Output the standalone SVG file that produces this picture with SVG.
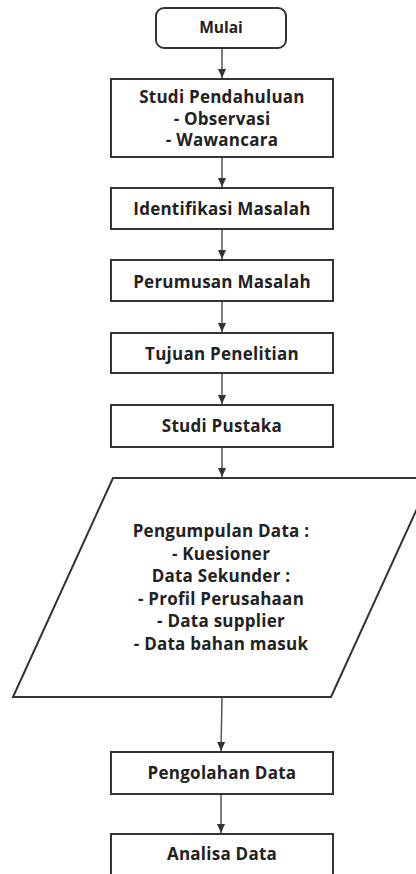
<svg xmlns="http://www.w3.org/2000/svg" width="416" height="874" viewBox="0 0 416 874">
<defs>
<marker id="arr" markerWidth="10" markerHeight="10" refX="9" refY="5" orient="auto" markerUnits="userSpaceOnUse">
<path d="M0,1 L9,5 L0,9 Z" fill="#333"/>
</marker>
<style>
.box{fill:#fff;stroke:#333;stroke-width:2}
.t{font-family:"Open Sans","Noto Sans",sans-serif;font-weight:bold;font-size:17px;letter-spacing:0.25px;fill:#222;text-anchor:middle}
.tm{font-family:"Open Sans","Noto Sans",sans-serif;font-weight:bold;font-size:15.5px;fill:#222;text-anchor:middle}
.c{stroke:#555;stroke-width:1.5;fill:none;marker-end:url(#arr)}
</style>
</defs>
<rect width="416" height="874" fill="#fff"/>
<g id="connectors">
<line class="c" x1="222" y1="48" x2="222" y2="78"/>
<line class="c" x1="222" y1="157" x2="222" y2="187"/>
<line class="c" x1="222" y1="229" x2="222" y2="259"/>
<line class="c" x1="222" y1="301" x2="222" y2="332"/>
<line class="c" x1="222" y1="373" x2="222" y2="404"/>
<line class="c" x1="222" y1="447" x2="222" y2="477"/>
<line class="c" x1="222" y1="697" x2="221" y2="751"/>
<line class="c" x1="221" y1="794" x2="221" y2="833"/>
</g>
<g id="mulai">
<rect class="box" x="156" y="8" width="130" height="40" rx="8"/>
<text class="tm" x="221" y="33">Mulai</text>
</g>
<g id="studi-pendahuluan">
<rect class="box" x="111" y="79" width="222" height="78"/>
<text class="t" x="222" y="103">Studi Pendahuluan</text>
<text class="t" x="222" y="124.5">- Observasi</text>
<text class="t" x="222" y="146">- Wawancara</text>
</g>
<g id="identifikasi">
<rect class="box" x="111" y="188" width="222" height="41"/>
<text class="t" x="222" y="215">Identifikasi Masalah</text>
</g>
<g id="perumusan">
<rect class="box" x="111" y="260" width="222" height="41"/>
<text class="t" x="222" y="288">Perumusan Masalah</text>
</g>
<g id="tujuan">
<rect class="box" x="111" y="333" width="222" height="40"/>
<text class="t" x="222" y="360">Tujuan Penelitian</text>
</g>
<g id="studi-pustaka">
<rect class="box" x="111" y="405" width="222" height="42"/>
<text class="t" x="222" y="432">Studi Pustaka</text>
</g>
<g id="pengumpulan">
<polygon class="box" points="113,478 431,478 331,697 13,697"/>
<text class="t" x="221" y="537">Pengumpulan Data :</text>
<text class="t" x="221" y="559.5">- Kuesioner</text>
<text class="t" x="221" y="582">Data Sekunder :</text>
<text class="t" x="221" y="604.5">- Profil Perusahaan</text>
<text class="t" x="221" y="627">- Data supplier</text>
<text class="t" x="221" y="649.5">- Data bahan masuk</text>
</g>
<g id="pengolahan">
<rect class="box" x="111" y="752" width="222" height="42"/>
<text class="t" x="222" y="779">Pengolahan Data</text>
</g>
<g id="analisa">
<rect class="box" x="111" y="834" width="222" height="50"/>
<text class="t" x="222" y="860">Analisa Data</text>
</g>
</svg>
